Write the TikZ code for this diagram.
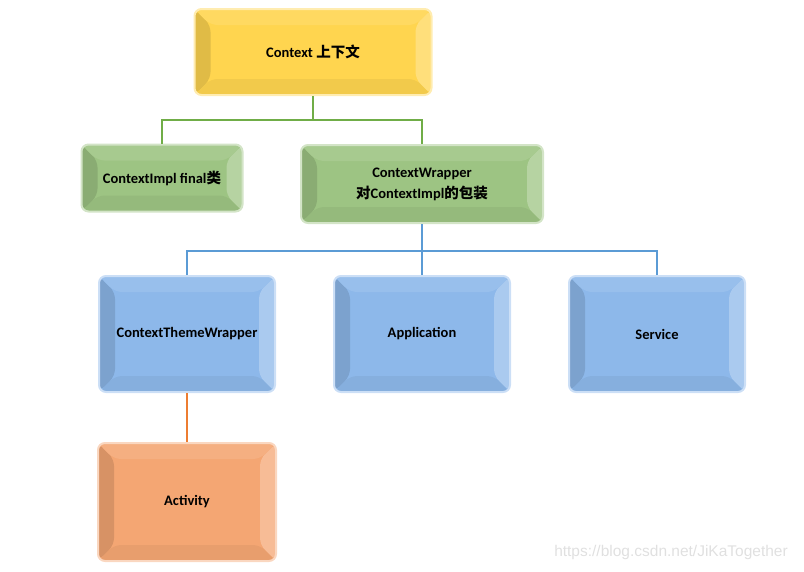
\documentclass[tikz,border=0pt]{standalone}
\usepackage{fontspec}
\setmainfont{Carlito}
\newfontfamily\cjk{Noto Sans CJK SC}
\newfontfamily\markfont{Liberation Sans}
\usetikzlibrary{positioning,calc}
\definecolor{ctxfill}{HTML}{FFD54F}
\definecolor{implfill}{HTML}{9DC483}
\definecolor{themefill}{HTML}{8DB8EA}
\definecolor{actfill}{HTML}{F4A673}
\definecolor{greenline}{HTML}{70AD47}
\definecolor{blueline}{HTML}{5B9BD5}
\definecolor{orangeline}{HTML}{ED7D31}
\tikzset{
  bevel/.style = {path picture={
      \fill[#1!88!black]
        (path picture bounding box.north west)
        -- ($(path picture bounding box.north west)+(16pt,-16pt)$)
        -- ($(path picture bounding box.south west)+(16pt,16pt)$)
        -- (path picture bounding box.south west) -- cycle;
      \fill[#1!75!white]
        (path picture bounding box.north east)
        -- ($(path picture bounding box.north east)+(-16pt,-16pt)$)
        -- ($(path picture bounding box.south east)+(-16pt,16pt)$)
        -- (path picture bounding box.south east) -- cycle;
      \fill[#1!90!white]
        (path picture bounding box.north west)
        -- ($(path picture bounding box.north west)+(16pt,-16pt)$)
        -- ($(path picture bounding box.north east)+(-16pt,-16pt)$)
        -- (path picture bounding box.north east) -- cycle;
      \fill[#1!95!black]
        (path picture bounding box.south west)
        -- ($(path picture bounding box.south west)+(16pt,16pt)$)
        -- ($(path picture bounding box.south east)+(-16pt,16pt)$)
        -- (path picture bounding box.south east) -- cycle;
    }},
  tile/.style    = {draw=#1!45!white, line width=2pt, fill=#1,
                    rounded corners=7pt, inner sep=0pt, align=center,
                    font=\fontsize{14.5}{21}\selectfont\bfseries, bevel=#1},
  ctxbox/.style  = {tile=ctxfill},
  implbox/.style = {tile=implfill},
  basebox/.style = {tile=themefill, minimum width=176pt, minimum height=116pt},
  actbox/.style  = {tile=actfill},
  link/.style    = {line width=2pt},
}

\begin{document}
\begin{tikzpicture}[x=1pt, y=-1pt]
\useasboundingbox (0,0) rectangle (804,571);

%% --- top -------------------------------------------------------------
\node[ctxbox, minimum width=237pt, minimum height=86pt] (ctx) at (313,52)
  {Context {\cjk 上下文}};

%% --- second row ------------------------------------------------------
\node[implbox, minimum width=161pt, minimum height=67pt] (impl) at (162,178)
  {ContextImpl final{\cjk 类}};
\node[implbox, minimum width=242pt, minimum height=78pt] (wrap) at (422,184)
  {ContextWrapper\\{\cjk 对}ContextImpl{\cjk 的包装}};

\draw[link, greenline] (ctx.south) -- ++(0,24) -| (impl.north);
\draw[link, greenline] (ctx.south) -- ++(0,24) -| (wrap.north);

%% --- third row -------------------------------------------------------
\node[basebox] (theme) at (187,334) {ContextThemeWrapper};
\node[basebox] (app)   at (422,334) {Application};
\node[basebox] (svc)   at (657,334) {Service};

\draw[link, blueline] (wrap.south) -- ++(0,27) -| (theme.north);
\draw[link, blueline] (wrap.south) -- (app.north);
\draw[link, blueline] (wrap.south) -- ++(0,27) -| (svc.north);

%% --- bottom ----------------------------------------------------------
\node[actbox, minimum width=178pt, minimum height=118pt] (act) at (187,502)
  {Activity};
\draw[link, orangeline] (theme.south) -- (act.north);

%% --- watermark -------------------------------------------------------
\node[font=\markfont\fontsize{15.5}{17}\selectfont, text=black!12] (mark) at (671,552)
  {https://blog.csdn.net/JiKaTogether};

\end{tikzpicture}
\end{document}
